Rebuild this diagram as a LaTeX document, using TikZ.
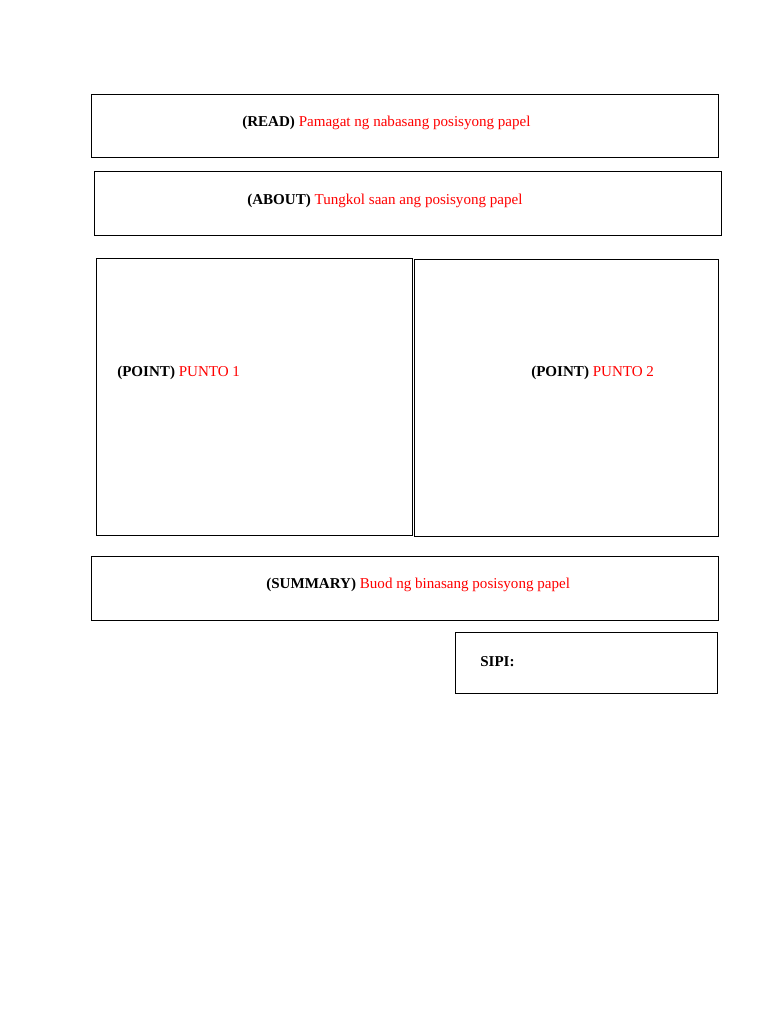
\documentclass[tikz,border=0pt]{standalone}
\usepackage{fontspec}
\setmainfont{Liberation Serif}
\definecolor{txtred}{RGB}{255,0,0}

\tikzstyle{box}=[draw,line width=0.6pt]
\tikzstyle{lbl}=[anchor=west,inner sep=0pt,font=\fontsize{11.3}{13}\selectfont]

\begin{document}
\begin{tikzpicture}[x=0.75pt,y=-0.75pt]
	\useasboundingbox (0,0) rectangle (768,1024);
		% First we draw the boxes
		\draw[box] (91,94) rectangle (718,157);
		\draw[box] (94,171) rectangle (721,235);
		\draw[box] (96,258) rectangle (412,535);
		\draw[box] (414,259) rectangle (718,536);
		\draw[box] (91,556) rectangle (718,620);
		\draw[box] (455,632) rectangle (717,693);
		% Then the labels
		\node[lbl] (read) at (242,123) {\textbf{(READ)} \textcolor{txtred}{Pamagat ng nabasang posisyong papel}};
		\node[lbl] (about) at (247,201) {\textbf{(ABOUT)} \textcolor{txtred}{Tungkol saan ang posisyong papel}};
		\node[lbl] (point1) at (117,373) {\textbf{(POINT)} \textcolor{txtred}{PUNTO 1}};
		\node[lbl] (point2) at (531,373) {\textbf{(POINT)} \textcolor{txtred}{PUNTO 2}};
		\node[lbl] (summary) at (266,585) {\textbf{(SUMMARY)} \textcolor{txtred}{Buod ng binasang posisyong papel}};
		\node[lbl] (sipi) at (480,662) {\textbf{SIPI:}};
\end{tikzpicture}
\end{document}
